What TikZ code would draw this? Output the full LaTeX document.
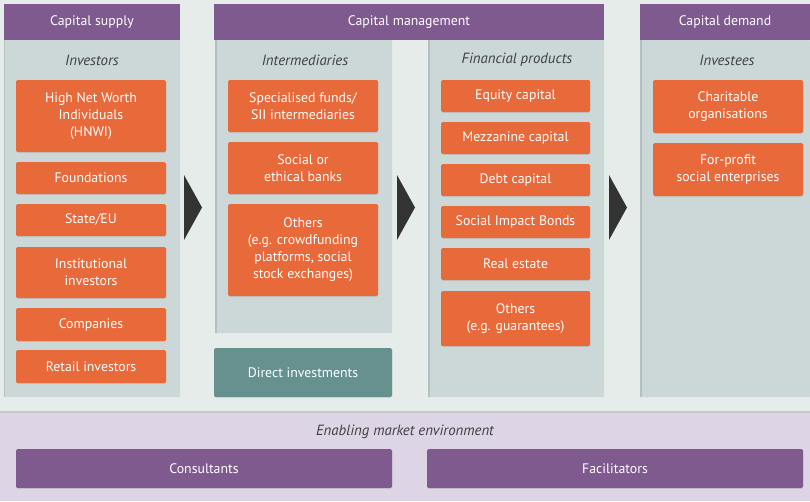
\documentclass[tikz,border=0pt]{standalone}
\usepackage{fontspec}
\setmainfont{PT Sans}
\usetikzlibrary{shadows}
\definecolor{bgc}{HTML}{E5ECEA}
\definecolor{panelc}{HTML}{CCD7D8}
\definecolor{panedge}{HTML}{B3BFC0}
\definecolor{purp}{HTML}{7E5A8E}
\definecolor{orng}{HTML}{E8693A}
\definecolor{tealc}{HTML}{66918F}
\definecolor{lav}{HTML}{DDD5E5}
\definecolor{darkarr}{HTML}{333333}
\definecolor{labc}{HTML}{3F3F3F}
\newcommand{\bx}[7]{%
  \pgfmathsetmacro{\bxw}{#4-#2}\pgfmathsetmacro{\bxh}{#5-#3}%
  \node[#6, minimum width=\bxw pt, minimum height=\bxh pt] (#1) at ({(#2+#4)/2},{(#3+#5)/2}) {#7};}
\tikzset{
  base/.style={inner sep=0pt, align=center, font=\fontsize{13.8}{17}\selectfont},
  obox/.style={base, fill=orng, text=white, rounded corners=1.5pt,
    drop shadow={opacity=0.18, shadow xshift=0.4pt, shadow yshift=-0.8pt}},
  hdr/.style={base, fill=purp, text=white},
  pbox/.style={base, fill=purp, text=white, rounded corners=1.5pt,
    drop shadow={opacity=0.15, shadow xshift=0.4pt, shadow yshift=-0.8pt}},
  tbox/.style={base, fill=tealc, text=white, rounded corners=1.5pt,
    drop shadow={opacity=0.15, shadow xshift=0.4pt, shadow yshift=-0.8pt}},
  panel/.style={base, fill=panelc, rounded corners=1pt},
  lab/.style={base, text=labc, font=\fontsize{14.8}{17}\selectfont\itshape},
  arr/.style={fill=darkarr, draw=none},
}
\begin{document}
\begin{tikzpicture}[x=1pt,y=-1pt]
\useasboundingbox (0,0) rectangle (810,501);
% backgrounds
\fill[bgc] (0,0) rectangle (810,412);
\fill[lav] (0,412) rectangle (810,501);
\fill[black!22] (0,411) rectangle (810,413);
% panels
\bx{p1}{4}{4}{180}{397}{panel}{}
\bx{p2}{215}{40}{392}{333}{panel}{}
\bx{p3}{428}{40}{604}{397}{panel}{}
\bx{p4}{640}{40}{810}{397}{panel}{}
\fill[panedge] (p1.north west) rectangle ++(1.5,393);
\fill[panedge] (215,40) rectangle (216.5,333);
\fill[panedge] (428,40) rectangle (429.5,397);
\fill[panedge] (640,40) rectangle (641.5,397);
% headers
\bx{h1}{4}{4}{180}{40}{hdr}{Capital supply}
\bx{h2}{214}{4}{604}{40}{hdr}{Capital management}
\bx{h3}{640}{4}{810}{40}{hdr}{Capital demand}
% italic labels
\node[lab] (l1) at (92,60) {Investors};
\node[lab] (l2) at (305,60) {Intermediaries};
\node[lab] (l3) at (517,60) {Financial products};
\node[lab] (l4) at (727,60) {Investees};
% column 1
\bx{a1}{16}{80}{166}{152}{obox}{High Net Worth\\Individuals\\(HNWI)}
\bx{a2}{16}{162}{166}{194}{obox}{Foundations}
\bx{a3}{16}{204}{166}{236}{obox}{State/EU}
\bx{a4}{16}{247}{166}{298}{obox}{Institutional\\investors}
\bx{a5}{16}{308}{166}{341}{obox}{Companies}
\bx{a6}{16}{350}{166}{383}{obox}{Retail investors}
% column 2
\bx{b1}{228}{80}{378}{132}{obox}{Specialised funds/\\SII intermediaries}
\bx{b2}{228}{142}{378}{194}{obox}{Social or\\ethical banks}
\bx{b3}{228}{204}{378}{296}{obox}{Others\\(e.g. crowdfunding\\platforms, social\\stock exchanges)}
\bx{di}{214}{348}{392}{397}{tbox}{Direct investments}
% column 3
\bx{c1}{441}{80}{590}{112}{obox}{Equity capital}
\bx{c2}{441}{122}{590}{154}{obox}{Mezzanine capital}
\bx{c3}{441}{164}{590}{196}{obox}{Debt capital}
\bx{c4}{441}{206}{590}{238}{obox}{Social Impact Bonds}
\bx{c5}{441}{248}{590}{280}{obox}{Real estate}
\bx{c6}{441}{291}{590}{346}{obox}{Others\\(e.g. guarantees)}
% column 4
\bx{d1}{653}{80}{803}{133}{obox}{Charitable\\organisations}
\bx{d2}{653}{143}{803}{196}{obox}{For-profit\\social enterprises}
% arrows
\fill[arr] (184,175) -- (202,207.5) -- (184,240) -- cycle;
\fill[arr] (397,175) -- (415,207.5) -- (397,240) -- cycle;
\fill[arr] (609,175) -- (627,207.5) -- (609,240) -- cycle;
% bottom
\node[lab] (env) at (405,432) {Enabling market environment};
\bx{e1}{16}{449}{392}{488}{pbox}{Consultants}
\bx{e2}{427}{449}{803}{488}{pbox}{Facilitators}
\end{tikzpicture}
\end{document}
